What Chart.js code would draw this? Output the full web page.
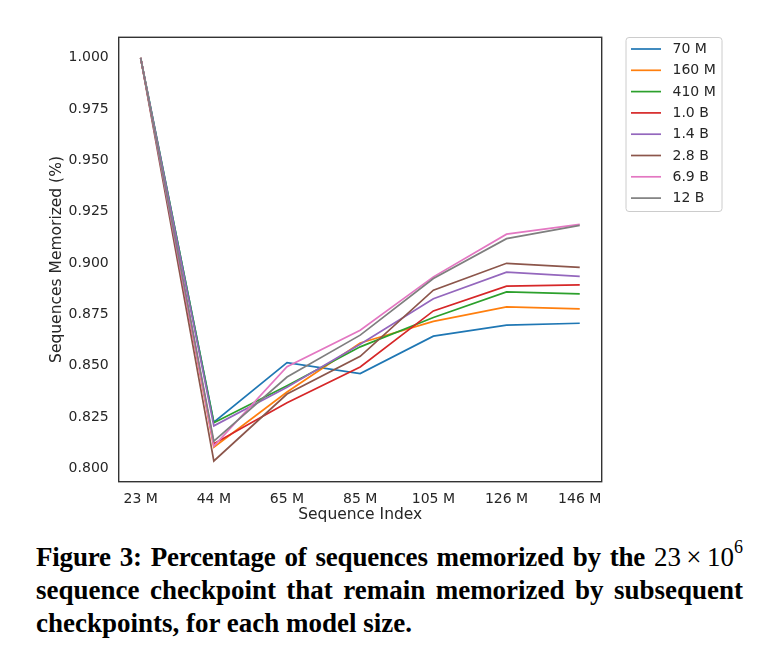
<!DOCTYPE html>
<html>
<head>
<meta charset="utf-8">
<script src="https://cdn.jsdelivr.net/npm/chart.js@4.4.1/dist/chart.umd.min.js"></script>
<style>
  html, body { margin: 0; padding: 0; background: #fff; }
  #wrap { position: relative; width: 780px; height: 666px; overflow: hidden; }
  #c { position: absolute; left: 0; top: 0; }
  #caption {
    position: absolute; left: 36px; top: 541px; width: 707px;
    font-family: "Liberation Serif", "Times New Roman", serif;
    font-weight: bold; font-size: 27px; line-height: 33px; color: #000;
  }
  #caption .j { text-align: justify; text-align-last: justify; white-space: nowrap; }
  #caption .l1 { letter-spacing: -0.2px; }
  #caption .n { font-weight: normal; letter-spacing: 0; }
  #caption sup { font-size: 18px; line-height: 0; position: relative; top: -3px; }
</style>
</head>
<body>
<div id="wrap">
  <canvas id="c" width="780" height="530"></canvas>
  <div id="caption">
    <div class="j l1">Figure 3: Percentage of sequences memorized by the <span class="n">23&#8201;×&#8201;10<sup>6</sup></span></div>
    <div class="j">sequence checkpoint that remain memorized by subsequent</div>
    <div>checkpoints, for each model size.</div>
  </div>
</div>
<script>
// ---- data ----
const categories = ["23 M", "44 M", "65 M", "85 M", "105 M", "126 M", "146 M"];
const seriesNames = ["70 M", "160 M", "410 M", "1.0 B", "1.4 B", "2.8 B", "6.9 B", "12 B"];
const s70M  = [1.0, 0.8225, 0.8515, 0.8462, 0.8644, 0.8698, 0.8707];
const s160M = [1.0, 0.8103, 0.8372, 0.8611, 0.8716, 0.8787, 0.8777];
const s410M = [1.0, 0.8222, 0.8402, 0.8592, 0.8735, 0.8860, 0.8850];
const s1_0B = [1.0, 0.8120, 0.8320, 0.8494, 0.8767, 0.8888, 0.8894];
const s1_4B = [1.0, 0.8207, 0.8395, 0.8605, 0.8826, 0.8956, 0.8935];
const s2_8B = [1.0, 0.8036, 0.8362, 0.8546, 0.8868, 0.8999, 0.8979];
const s6_9B = [1.0, 0.8108, 0.8495, 0.8673, 0.8933, 0.9141, 0.9189];
const s12B  = [1.0, 0.8133, 0.8445, 0.8649, 0.8925, 0.9119, 0.9184];
const yTicks = [0.800, 0.825, 0.850, 0.875, 0.900, 0.925, 0.950, 0.975, 1.000];

const allSeries = [s70M, s160M, s410M, s1_0B, s1_4B, s2_8B, s6_9B, s12B];
const colors = ["#1f77b4", "#ff7f0e", "#2ca02c", "#d62728", "#9467bd", "#8c564b", "#e377c2", "#7f7f7f"];

const FONT = "'DejaVu Sans', sans-serif";
const TXT = "#262626";

const datasets = allSeries.map((vals, i) => ({
  label: seriesNames[i],
  data: vals.map((v, j) => ({ x: j, y: v })),
  borderColor: colors[i],
  backgroundColor: colors[i],
  borderWidth: 1.7,
  pointRadius: 0,
  tension: 0,
  order: allSeries.length - i
}));

const PLOT = { left: 118.7, right: 601.7, top: 37.3, bottom: 481.7 };

const framePlugin = {
  id: 'frame',
  afterDatasetsDraw(chart) {
    const a = chart.chartArea, ctx = chart.ctx;
    ctx.save();
    ctx.strokeStyle = "#333333";
    ctx.lineWidth = 1.4;
    ctx.strokeRect(a.left, a.top, a.right - a.left, a.bottom - a.top);
    ctx.restore();
  }
};

const legendPlugin = {
  id: 'customLegend',
  afterDraw(chart) {
    const ctx = chart.ctx;
    const bx = 626, by = 37.5, bw = 96, bh = 174, r = 3;
    ctx.save();
    ctx.fillStyle = "rgba(255,255,255,0.8)";
    ctx.strokeStyle = "#cccccc";
    ctx.lineWidth = 1;
    ctx.beginPath();
    ctx.moveTo(bx + r, by);
    ctx.lineTo(bx + bw - r, by);
    ctx.quadraticCurveTo(bx + bw, by, bx + bw, by + r);
    ctx.lineTo(bx + bw, by + bh - r);
    ctx.quadraticCurveTo(bx + bw, by + bh, bx + bw - r, by + bh);
    ctx.lineTo(bx + r, by + bh);
    ctx.quadraticCurveTo(bx, by + bh, bx, by + bh - r);
    ctx.lineTo(bx, by + r);
    ctx.quadraticCurveTo(bx, by, bx + r, by);
    ctx.closePath();
    ctx.fill();
    ctx.stroke();
    ctx.font = "14px " + FONT;
    ctx.textBaseline = "middle";
    ctx.textAlign = "left";
    chart.data.datasets.forEach((ds, i) => {
      const y = 49 + i * 21.3;
      ctx.strokeStyle = ds.borderColor;
      ctx.lineWidth = 1.7;
      ctx.beginPath();
      ctx.moveTo(631, y);
      ctx.lineTo(661, y);
      ctx.stroke();
      ctx.fillStyle = TXT;
      ctx.fillText(ds.label, 672.5, y + 0.5);
    });
    ctx.restore();
  }
};

new Chart(document.getElementById('c'), {
  type: 'line',
  data: { datasets },
  plugins: [framePlugin, legendPlugin],
  options: {
    responsive: false,
    animation: false,
    layout: { padding: { left: 0, right: 780 - PLOT.right, top: PLOT.top, bottom: 0 } },
    plugins: { legend: { display: false }, tooltip: { enabled: false } },
    scales: {
      x: {
        type: 'linear',
        min: -0.3, max: 6.3,
        grid: { display: false, drawTicks: false },
        border: { display: false },
        afterBuildTicks(scale) { scale.ticks = categories.map((c, i) => ({ value: i })); },
        afterFit(scale) { scale.height = 530 - PLOT.bottom; },
        ticks: {
          padding: 9, color: TXT, font: { family: FONT, size: 14 },
          maxRotation: 0, autoSkip: false,
          callback: (v) => categories[v]
        },
        title: { display: true, text: 'Sequence Index', color: TXT, font: { family: FONT, size: 15.5 }, padding: { top: 0, bottom: 6 } }
      },
      y: {
        type: 'linear',
        min: 0.7935, max: 1.0100,
        grid: { display: false, drawTicks: false },
        border: { display: false },
        afterBuildTicks(scale) { scale.ticks = yTicks.map(v => ({ value: v })); },
        afterFit(scale) { scale.width = PLOT.left; },
        ticks: {
          padding: 10, color: TXT, font: { family: FONT, size: 14 },
          callback: (v) => v.toFixed(3)
        },
        title: { display: true, text: 'Sequences Memorized (%)', color: TXT, font: { family: FONT, size: 15.5 }, padding: { top: 48, bottom: 0 } }
      }
    }
  }
});
</script>
</body>
</html>
